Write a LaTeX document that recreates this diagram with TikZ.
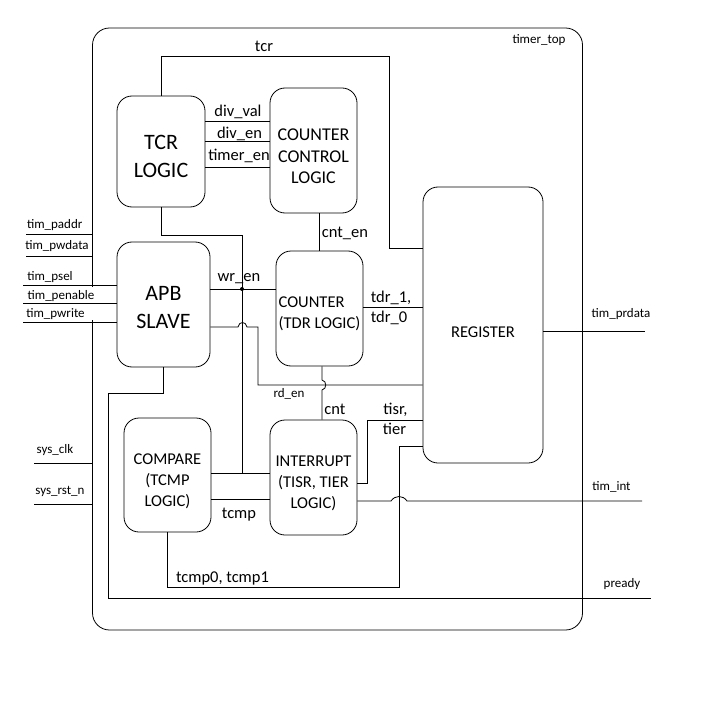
\documentclass[tikz,border=0pt]{standalone}
\usepackage{fontspec}
\setmainfont{Carlito}
\newcommand{\Up}[1]{\rule{0pt}{#1pt}}

\begin{document}
\begin{tikzpicture}[x=1pt,y=-1pt,line width=0.8pt]
	\tikzstyle{Block}	= [draw, rounded corners=15pt, inner sep=0pt, align=center, font=\fontsize{16.5}{21}\selectfont]
	\tikzstyle{Big}		= [font=\fontsize{22}{27.5}\selectfont]
	\tikzstyle{Wide}	= [font=\fontsize{18}{21.5}\selectfont]
	\tikzstyle{Sig}		= [anchor=base, inner sep=0pt, font=\fontsize{16.5}{20}\selectfont]
	\tikzstyle{Pin}		= [anchor=base, inner sep=0pt, font=\fontsize{13}{15}\selectfont]

	\useasboundingbox (0,0) rectangle (701,703);

	% outer module
	\node (timertop) at (337.5,329) [Block, minimum width=490pt, minimum height=602pt, rounded corners=17pt] {};
	\node (toplabel) at (539,44) [Pin] {timer\_top};

	% blocks
	\node (tcrlogic) at (161,151.5) [Block, Big, minimum width=88pt, minimum height=111pt] {\Up{24}TCR\\LOGIC};
	\node (ccl) at (313.5,150.5) [Block, Wide, minimum width=87pt, minimum height=125pt] {\Up{24}COUNTER\\CONTROL\\LOGIC};
	\node (apb) at (163.5,304.5) [Block, Big, minimum width=93pt, minimum height=125pt] {\Up{20}APB\\SLAVE};
	\node (counter) at (319.5,308.5) [Block, align=left, minimum width=87pt, minimum height=115pt] {\Up{21}COUNTER\\(TDR LOGIC)};
	\node (compare) at (167.5,475) [Block, minimum width=87pt, minimum height=114pt] {\Up{23}COMPARE\\(TCMP\\LOGIC)};
	\node (intr) at (313.5,477.5) [Block, minimum width=87pt, minimum height=115pt] {\Up{23}INTERRUPT\\(TISR, TIER\\LOGIC)};
	\node (reg) at (483,325) [Block, minimum width=120pt, minimum height=276pt] {\Up{25}REGISTER};

	% free ends
	\coordinate (paddr) at (26,234);
	\coordinate (pwdata) at (26,256);
	\coordinate (psel) at (23,285);
	\coordinate (penable) at (23,303);
	\coordinate (pwrite) at (23,322);
	\coordinate (sysclk) at (34,463);
	\coordinate (sysrst) at (34,504);
	\coordinate (prdata) at (645,331);
	\coordinate (timint) at (642,501);
	\coordinate (pready) at (651,598);

	% gap in module edge
	\draw [white, line width=2pt] (timertop.west |- 0,287) -- (timertop.west |- 0,320);

	% inputs
	\draw [-] (paddr) to (timertop.west |- paddr);
	\draw [-] (pwdata) to (timertop.west |- pwdata);
	\draw [-] (psel) to (apb.west |- psel);
	\draw [-] (penable) to (apb.west |- penable);
	\draw [-] (pwrite) to (apb.west |- pwrite);
	\draw [-] (sysclk) to (timertop.west |- sysclk);
	\draw [-] (sysrst) to (timertop.west |- sysrst);

	% tcr logic
	\draw (tcrlogic.north) |- (389,56) |- (reg.west |- 0,248);
	\draw [-] (tcrlogic.east |- 0,121) to (ccl.west |- 0,121);
	\draw [-] (tcrlogic.east |- 0,141) to (ccl.west |- 0,141);
	\draw [-] (tcrlogic.east |- 0,167) to (ccl.west |- 0,167);
	\draw (tcrlogic.south) |- (242,235) -- (242,473);
	\draw [-] (counter.north) to (counter.north |- ccl.south);

	% apb slave
	\draw [-] (apb.east |- 0,289) to (counter.west |- 0,289);
	\fill (242,289) circle (2pt);
	\draw (apb.east |- 0,327) -- (238,327) .. controls (239,321) and (246,321) .. (247,327) -- (258,327) -- (258,385) -- (reg.west |- 0,385);
	\draw (apb.south) |- (108,393) -- (108,598) -- (pready);

	% counter
	\draw [-] (counter.east |- 0,307) to (reg.west |- 0,307);
	\draw (counter.south -| 322,0) -- (322,380) .. controls (327,381) and (327,389) .. (322,390) -- (intr.north -| 322,0);

	% compare and interrupt
	\draw [-] (compare.east |- 0,473) to (intr.west |- 0,473);
	\draw [-] (compare.east |- 0,499) to (intr.west |- 0,499);
	\draw (compare.south) |- (399,587) -- (399,446) -- (reg.west |- 0,446);
	\draw (intr.east |- 0,483) -| (367,420) -- (reg.west |- 0,420);
	\draw (intr.east |- 0,501) -- (391,501) .. controls (395,495) and (403,495) .. (407,501) -- (timint);

	% register
	\draw [-] (reg.east |- prdata) to (prdata);

	% signal labels
	\node (ltcr) at (264,52) [Sig] {tcr};
	\node (ldivval) at (238,117) [Sig] {div\_val};
	\node (ldiven) at (239.5,139) [Sig] {div\_en};
	\node (ltimeren) at (239,161) [Sig] {timer\_en};
	\node (lcnten) at (345,237) [Sig] {cnt\_en};
	\node (lwren) at (239,281) [Sig] {wr\_en};
	\node (ltdra) at (391,302) [Sig] {tdr\_1,};
	\node (ltdrb) at (389,322) [Sig] {tdr\_0};
	\node (lrden) at (289,397) [Pin] {rd\_en};
	\node (lcnt) at (335,414) [Sig] {cnt};
	\node (ltisr) at (395.5,414) [Sig] {tisr,};
	\node (ltier) at (394.5,434) [Sig] {tier};
	\node (ltcmp) at (239,518) [Sig] {tcmp};
	\node (ltcmpx) at (222.5,582) [Sig] {tcmp0, tcmp1};

	% pin labels
	\node (lpaddr) at (54.7,229) [Pin] {tim\_paddr};
	\node (lpwdata) at (57,249) [Pin] {tim\_pwdata};
	\node (lpsel) at (50,280) [Pin] {tim\_psel};
	\node (lpenable) at (61,299) [Pin] {tim\_penable};
	\node (lpwrite) at (55.5,317) [Pin] {tim\_pwrite};
	\node (lsysclk) at (55,453) [Pin] {sys\_clk};
	\node (lsysrst) at (60,494) [Pin] {sys\_rst\_n};
	\node (lprdata) at (621,317) [Pin] {tim\_prdata};
	\node (ltimint) at (611.5,490) [Pin] {tim\_int};
	\node (lpready) at (622,587) [Pin] {pready};
\end{tikzpicture}
\end{document}
